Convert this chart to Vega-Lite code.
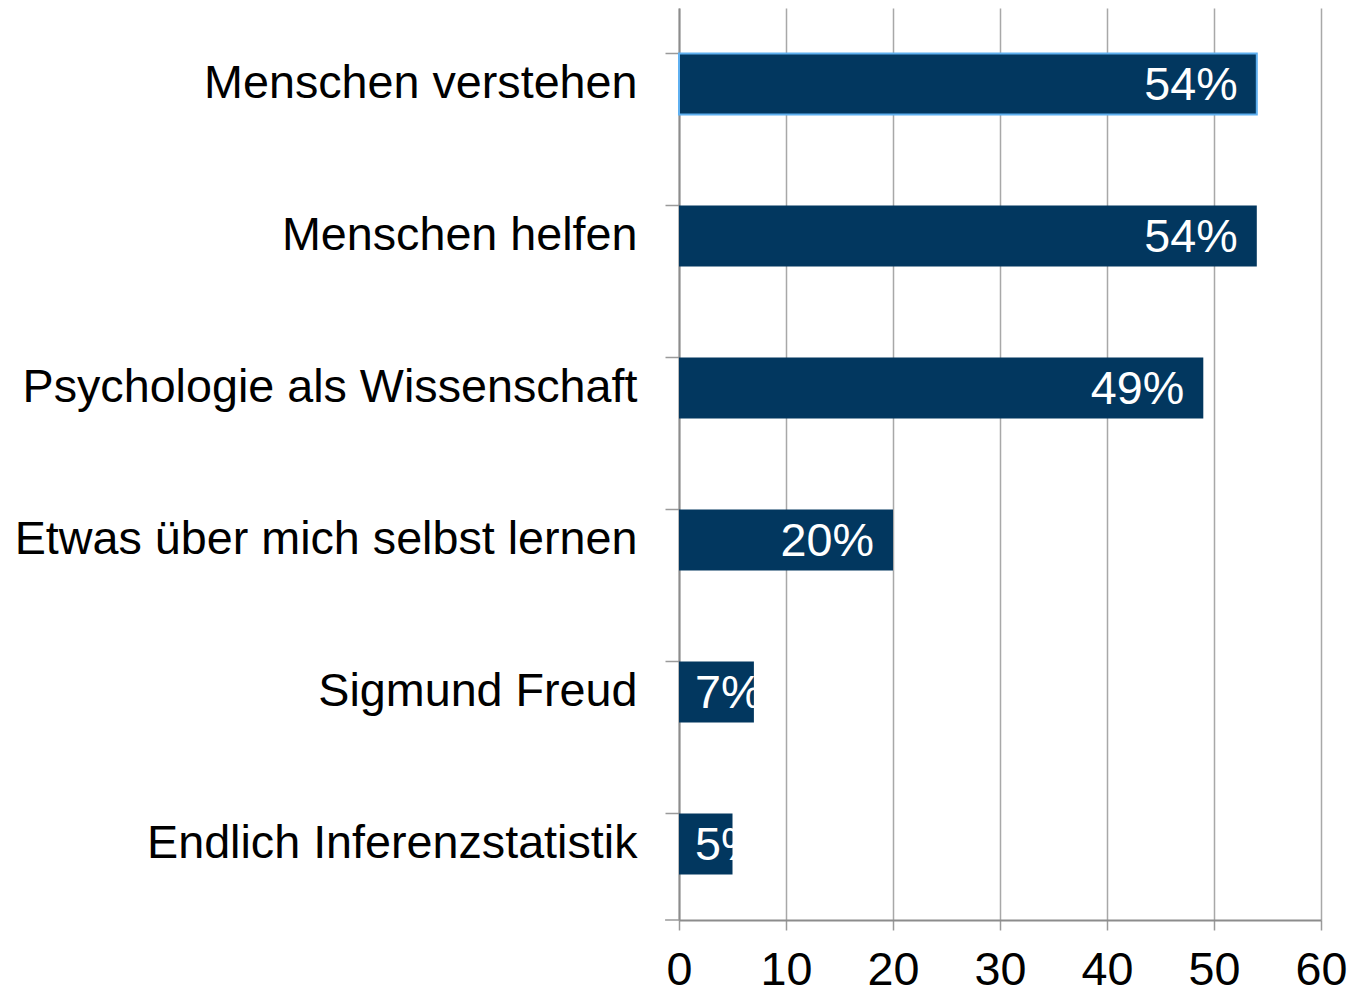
{
  "$schema": "https://vega.github.io/schema/vega-lite/v6.json",
  "autosize": {"type": "none"},
  "padding": {"left": 679, "top": 8, "right": 30, "bottom": 75},
  "width": 642,
  "height": 912,
  "background": "white",
  "config": {
    "view": {"stroke": null},
    "font": "Liberation Sans",
    "axis": {"labelFont": "Liberation Sans", "labelColor": "#000000"}
  },
  "data": {
    "values": [
      {"cat": "Menschen verstehen", "value": 54},
      {"cat": "Menschen helfen", "value": 54},
      {"cat": "Psychologie als Wissenschaft", "value": 49},
      {"cat": "Etwas über mich selbst lernen", "value": 20},
      {"cat": "Sigmund Freud", "value": 7},
      {"cat": "Endlich Inferenzstatistik", "value": 5}
    ]
  },
  "transform": [{"calculate": "datum.value + '%'", "as": "lbl"}],
  "encoding": {
    "y": {
      "field": "cat",
      "type": "nominal",
      "sort": null,
      "scale": {"paddingInner": 0.6, "paddingOuter": 0.3},
      "axis": {
        "title": null,
        "bandPosition": 0,
        "grid": false,
        "domainColor": "#8c8c8c",
        "domainWidth": 2,
        "tickColor": "#9a9a9a",
        "tickWidth": 1.5,
        "tickSize": 14,
        "labelPadding": 28,
        "labelFontSize": 46.7,
        "labelLimit": 700
      }
    }
  },
  "layer": [
    {
      "mark": {"type": "bar", "color": "#02375f", "strokeWidth": 2},
      "encoding": {
        "x": {
          "field": "value",
          "type": "quantitative",
          "scale": {"domain": [0, 60], "nice": false},
          "axis": {
            "title": null,
            "values": [0, 10, 20, 30, 40, 50, 60],
            "grid": true,
            "gridColor": "#a8a8a8",
            "gridWidth": 1.5,
            "domainColor": "#8c8c8c",
            "domainWidth": 2,
            "tickColor": "#9a9a9a",
            "tickWidth": 1.5,
            "tickSize": 10,
            "labelPadding": 17,
            "labelFontSize": 46.7,
            "labelFlush": false
          }
        },
        "stroke": {
          "condition": {"test": "datum.cat === 'Menschen verstehen'", "value": "#5fb0f0"},
          "value": null
        }
      }
    },
    {
      "transform": [{"filter": "datum.value >= 10"}],
      "mark": {"type": "text", "align": "right", "baseline": "middle", "dx": -19, "dy": 2, "fontSize": 46.7, "color": "white", "font": "Liberation Sans"},
      "encoding": {
        "x": {"field": "value", "type": "quantitative"},
        "text": {"field": "lbl"}
      }
    },
    {
      "transform": [{"filter": "datum.value < 10"}],
      "mark": {"type": "text", "align": "left", "baseline": "middle", "dx": 16, "dy": 2, "fontSize": 46.7, "color": "white", "font": "Liberation Sans"},
      "encoding": {
        "x": {"datum": 0},
        "text": {"field": "lbl"}
      }
    },
    {
      "data": {"values": [{"cat": "Endlich Inferenzstatistik", "from": -1.3, "to": 0}]},
      "mark": {"type": "rule", "color": "#9a9a9a", "strokeWidth": 1.5},
      "encoding": {
        "y": {"field": "cat", "type": "nominal", "bandPosition": 1.75},
        "x": {"field": "from", "type": "quantitative"},
        "x2": {"field": "to"}
      }
    }
  ]
}
